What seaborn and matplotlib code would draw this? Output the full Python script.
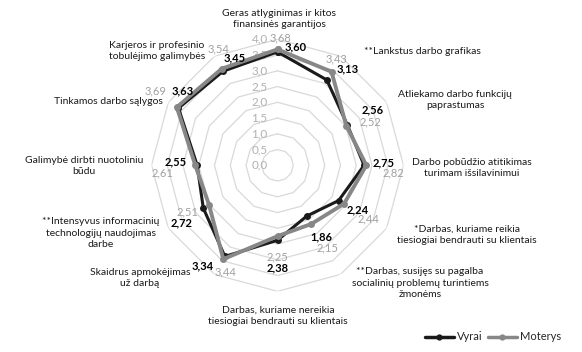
import numpy as np
import pandas as pd
import matplotlib
matplotlib.use("Agg")
import matplotlib.pyplot as plt
import seaborn as sns
from matplotlib.lines import Line2D

# ---------------- data ----------------
categories = [
    "Geras atlyginimas ir kitos\nfinansinės garantijos",
    "**Lankstus darbo grafikas",
    "Atliekamo darbo funkcijų\npaprastumas",
    "Darbo pobūdžio atitikimas\nturimam išsilavinimui",
    "*Darbas, kuriame reikia\ntiesiogiai bendrauti su klientais",
    "**Darbas, susijęs su pagalba\nsocialinių problemų turintiems\nžmonėms",
    "Darbas, kuriame nereikia\ntiesiogiai bendrauti su klientais",
    "Skaidrus apmokėjimas\nuž darbą",
    "**Intensyvus informacinių\ntechnologijų naudojimas\ndarbe",
    "Galimybė dirbti nuotoliniu\nbūdu",
    "Tinkamos darbo sąlygos",
    "Karjeros ir profesinio\ntobulėjimo galimybės",
]
vyrai = [3.60, 3.13, 2.56, 2.75, 2.24, 1.86, 2.38, 3.34, 2.72, 2.55, 3.63, 3.45]
moterys = [3.68, 3.43, 2.52, 2.82, 2.44, 2.15, 2.25, 3.44, 2.51, 2.61, 3.69, 3.54]
series_names = ["Vyrai", "Moterys"]
radial_ticks = [0.0, 0.5, 1.0, 1.5, 2.0, 2.5, 3.0, 3.5, 4.0]

# ---------------- layout / style (not data) ----------------
W, H = 582, 352
cx, cy, R = 277.5, 165.3, 126.0  # pixel centre and radius of the 4.0 ring
colors = {"Vyrai": "#1a1a1a", "Moterys": "#878787"}
lab_colors = {"Vyrai": "#000000", "Moterys": "#a0a0a0"}
# category label centres in pixels (x, y from top)
cat_pos = [(279, 19), (422, 51), (455, 100), (472, 168), (467, 235), (420, 283),
           (278, 316), (140, 278), (101, 233), (84, 166), (108, 102), (157, 51)]
# value-label offsets in pixels (dx right, dy down) from each point
off_v = [(18, -5), (21, -11), (25, -15), (19, -2), (19, 9), (15, 21),
         (0, 28), (-22, 9), (-22, 15), (-22, -3), (4, -17), (11, -13)]
off_m = [(3, -11), (5, -13), (24, -4), (27, 8), (24, 15), (16, 24),
         (0, 21), (2, 13), (-22, 7), (-33, 8), (-21, -16), (-3, -20)]

sns.set_theme(style="white")
plt.rcParams["font.family"] = ["Lato", "DejaVu Sans"]

fig = plt.figure(figsize=(W / 100, H / 100), dpi=100)
ax = fig.add_axes([(cx - R) / W, (H - cy - R) / H, 2 * R / W, 2 * R / H], projection="polar")
ax.set_theta_zero_location("N")
ax.set_theta_direction(-1)
ax.set_ylim(0, 4.0)
ax.grid(False)
ax.spines["polar"].set_visible(False)
ax.set_xticks([])
ax.set_yticks([])
ax.patch.set_alpha(0)

n = len(categories)
angles = np.arange(n) * 2 * np.pi / n
closed = np.append(angles, 2 * np.pi)

# polygon grid rings
for r in radial_ticks[1:]:
    ax.plot(closed, [r] * (n + 1), color="#d9d9d9", lw=0.9, zorder=0)

# data
rows = []
for name, vals in zip(series_names, [vyrai, moterys]):
    for th, v in zip(closed, list(vals) + [vals[0]]):
        rows.append({"theta": th, "value": v, "series": name})
df = pd.DataFrame(rows)

for name, lw in zip(series_names, [2.2, 2.8]):
    sns.lineplot(data=df[df.series == name], x="theta", y="value", sort=False,
                 color=colors[name], lw=lw, marker="o", markersize=5,
                 markeredgewidth=0, ax=ax, legend=False, zorder=3)
ax.set_xlabel("")
ax.set_ylabel("")

# radial tick labels
for r in radial_ticks:
    ax.annotate(f"{r:.1f}".replace(".", ","), xy=(0, r), xytext=(-10, 0),
                textcoords="offset pixels", ha="right", va="center",
                fontsize=8.4, color="#b0b0b0", zorder=2)

# value labels
for name, vals, offs in zip(series_names, [vyrai, moterys], [off_v, off_m]):
    for th, v, (dx, dy) in zip(angles, vals, offs):
        ax.annotate(f"{v:.2f}".replace(".", ","), xy=(th, v), xytext=(dx, -dy),
                    textcoords="offset pixels", ha="center", va="center",
                    fontsize=8.0, color=lab_colors[name],
                    fontweight="bold" if name == "Vyrai" else "normal", zorder=5)

# category labels
for lab, (x, y) in zip(categories, cat_pos):
    fig.text(x / W, 1 - y / H, lab, ha="center", va="center", fontsize=7.5,
             color="#1a1a1a", multialignment="center", linespacing=1.3)

# legend
handles = [Line2D([0], [0], color=colors[s], lw=2.5, marker="o", markersize=4.5,
                  markeredgewidth=0) for s in series_names]
fig.legend(handles, series_names, loc="center", bbox_to_anchor=(493 / W, 1 - 337 / H),
           ncol=2, frameon=False, fontsize=8.0, handlelength=2.6, handletextpad=0.3,
           columnspacing=0.5)

fig.savefig("out.png", dpi=100)
